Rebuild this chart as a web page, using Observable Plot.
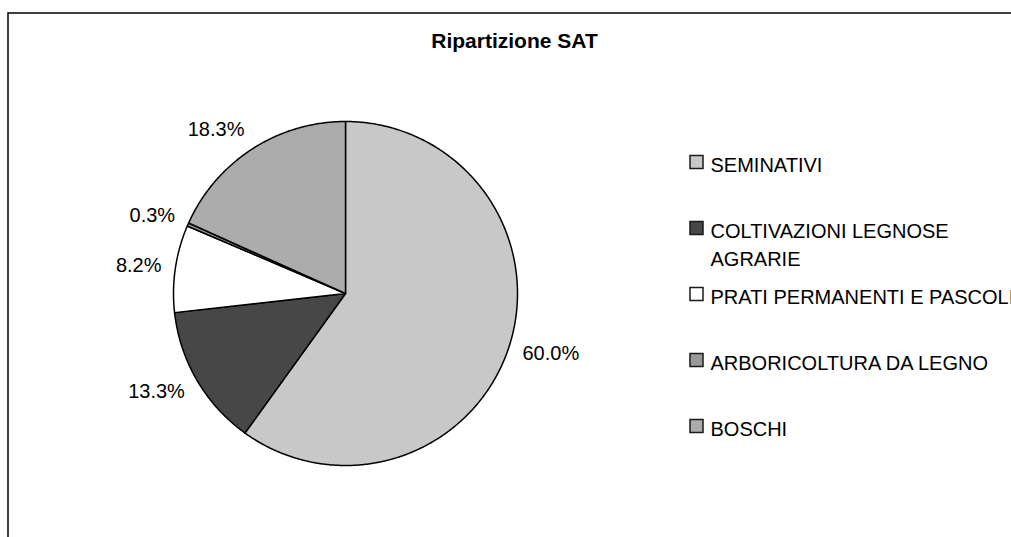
<!DOCTYPE html>
<html>
<head>
<meta charset="utf-8">
<script src="https://cdn.jsdelivr.net/npm/d3@7"></script>
<script src="https://cdn.jsdelivr.net/npm/@observablehq/plot@0.6"></script>
<style>
  html, body { margin: 0; padding: 0; background: #fff; overflow: hidden; }
  #chart svg { display: block; }
  #chart svg g[aria-label="legend-text"] text { letter-spacing: 0.45px; }
  #chart svg g[aria-label="title"] text { letter-spacing: 0.6px; }
</style>
</head>
<body>
<div id="chart"></div>
<script>
// ---- data ----
const title = "Ripartizione SAT";
const categories = ["SEMINATIVI", "COLTIVAZIONI LEGNOSE AGRARIE", "PRATI PERMANENTI E PASCOLI", "ARBORICOLTURA DA LEGNO", "BOSCHI"];
const legendLabels = ["SEMINATIVI", "COLTIVAZIONI LEGNOSE\nAGRARIE", "PRATI PERMANENTI E PASCOLI", "ARBORICOLTURA DA LEGNO", "BOSCHI"];
const shares = [60.0, 13.3, 8.2, 0.3, 18.3];
const shareLabels = ["60.0%", "13.3%", "8.2%", "0.3%", "18.3%"];
const colors = ["#c8c8c8", "#474747", "#ffffff", "#999999", "#acacac"];

// ---- layout ----
const W = 1011, H = 537;
const cx = 345, cy = 293, R = 172;
const FONT = "'Liberation Sans', Arial, Helvetica, sans-serif";

const pie = d3.pie().sort(null).value(d => d)(shares);

// slice outlines in data space (centre -> arc -> centre)
const slices = pie.map((p, i) => {
  const pts = [{x: cx, y: cy}];
  const n = Math.max(2, Math.ceil((p.endAngle - p.startAngle) / (Math.PI / 360)));
  for (let k = 0; k <= n; k++) {
    const a = p.startAngle + (p.endAngle - p.startAngle) * k / n;
    pts.push({x: cx + R * Math.sin(a), y: cy - R * Math.cos(a)});
  }
  pts.push({x: cx, y: cy});
  return {pts, color: colors[i]};
});

// labels placed outside the pie: anchor point on a ring, box extends away from pie
const ctx = document.createElement("canvas").getContext("2d");
ctx.font = "20px " + FONT;
const gap = 14, boxH = 18;
const labels = pie.map((p, i) => {
  const a = (p.startAngle + p.endAngle) / 2;
  const dx = Math.sin(a), dy = -Math.cos(a);
  const w = ctx.measureText(shareLabels[i]).width;
  return {
    text: shareLabels[i],
    x: cx + (R + gap) * dx + Math.sign(dx) * w / 2,
    y: cy + (R + gap) * dy + dy * boxH / 2
  };
});

// legend
const legX = 690, legTextX = 710, legY0 = 162, legStep = 66, sw = 13;
const legend = categories.map((c, i) => ({
  label: legendLabels[i], color: colors[i], y: legY0 + i * legStep
}));

const chart = Plot.plot({
  width: W, height: H,
  margin: 0,
  x: {domain: [0, W], range: [0, W], axis: null},
  y: {domain: [0, H], range: [0, H], axis: null},
  style: {background: "#fff", fontFamily: FONT, overflow: "visible"},
  marks: [
    // outer chart-area border (extends past right/bottom edges)
    Plot.rect([0], {x1: 8, x2: W + 20, y1: 13, y2: H + 20, fill: "none", stroke: "#000", strokeWidth: 1.5}),
    // title
    Plot.text([title], {x: 514, y: 41, text: d => d, fontSize: 21, fontWeight: "bold", fill: "#000", textAnchor: "middle", lineAnchor: "middle", ariaLabel: "title"}),
    // pie slices
    ...slices.map(s => Plot.line(s.pts, {x: "x", y: "y", fill: s.color, stroke: "#000", strokeWidth: 1.5, strokeLinejoin: "round", curve: "linear"})),
    // slice labels
    Plot.text(labels, {x: "x", y: "y", text: "text", fontSize: 20, fill: "#000", textAnchor: "middle", lineAnchor: "middle"}),
    // legend swatches
    Plot.rect(legend, {x1: legX, x2: legX + sw, y1: d => d.y - sw / 2, y2: d => d.y + sw / 2, fill: "color", stroke: "#1a1a1a", strokeWidth: 1.5}),
    // legend text
    Plot.text(legend, {x: legTextX, y: d => d.y - 10, text: "label", fontSize: 20, fill: "#000", textAnchor: "start", lineAnchor: "top", lineHeight: 1.4, ariaLabel: "legend-text"})
  ]
});
document.getElementById("chart").appendChild(chart);
</script>
</body>
</html>
